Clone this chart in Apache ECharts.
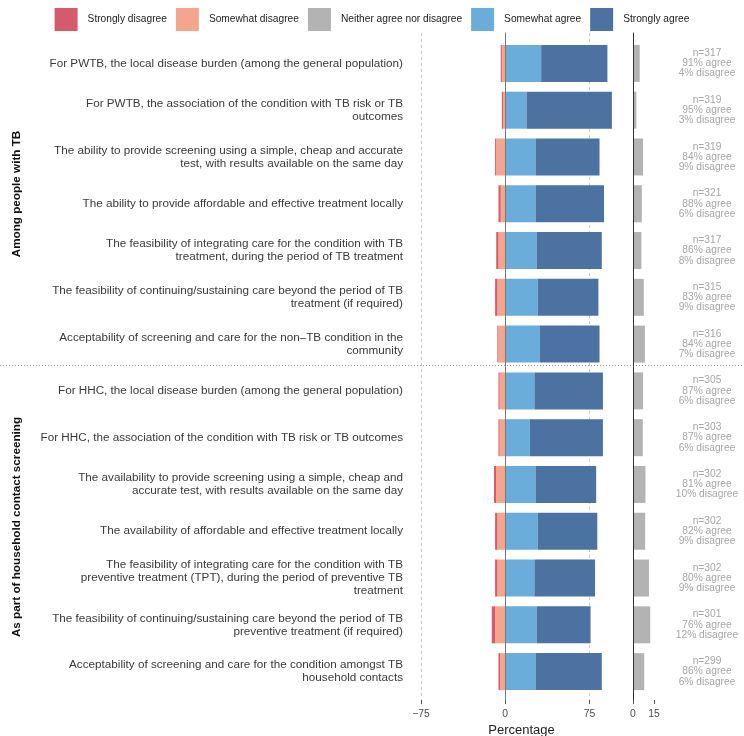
<!DOCTYPE html>
<html>
<head>
<meta charset="utf-8">
<script src="https://cdn.jsdelivr.net/npm/echarts@6/dist/echarts.min.js"></script>
<style>
html, body { margin: 0; padding: 0; background: #fff; }
#chart { width: 744px; height: 736px; }
</style>
</head>
<body>
<div id="chart"></div>
<script>
// statements, top to bottom (first 7 = people with TB, last 7 = household contacts)
const categories = [
  'For PWTB, the local disease burden (among the general population)',
  'For PWTB, the association of the condition with TB risk or TB\noutcomes',
  'The ability to provide screening using a simple, cheap and accurate\ntest, with results available on the same day',
  'The ability to provide affordable and effective treatment locally',
  'The feasibility of integrating care for the condition with TB\ntreatment, during the period of TB treatment',
  'The feasibility of continuing/sustaining care beyond the period of TB\ntreatment (if required)',
  'Acceptability of screening and care for the non\u2013TB condition in the\ncommunity',
  'For HHC, the local disease burden (among the general population)',
  'For HHC, the association of the condition with TB risk or TB outcomes',
  'The availability to provide screening using a simple, cheap and\naccurate test, with results available on the same day',
  'The availability of affordable and effective treatment locally',
  'The feasibility of integrating care for the condition with TB\npreventive treatment (TPT), during the period of preventive TB\ntreatment',
  'The feasibility of continuing/sustaining care beyond the period of TB\npreventive treatment (if required)',
  'Acceptability of screening and care for the condition amongst TB\nhousehold contacts'
];
const groups = ['Among people with TB', 'As part of household contact screening'];

// percentages
const stronglyDisagree = [1, 1, 1, 2, 2, 2, 0.7, 1, 1, 2, 2, 2, 3, 1.5];
const somewhatDisagree = [3, 2, 8, 4, 6, 7, 6.3, 5, 5, 8, 7, 7, 9, 4.5];
const neutral = [4.8, 2.4, 7.2, 6.3, 6, 7.7, 8.5, 7.2, 7, 8.9, 8.7, 11.4, 12.3, 8];
const somewhatAgree = [32, 19, 27, 27, 28, 29, 31, 26, 22, 27, 29, 26, 28, 27];
const stronglyAgree = [59, 76, 57, 61, 58, 54, 53, 61, 65, 54, 53, 54, 48, 59];

// right-hand summary text
const nVals = [317, 319, 319, 321, 317, 315, 316, 305, 303, 302, 302, 302, 301, 299];
const agreePct = [91, 95, 84, 88, 86, 83, 84, 87, 87, 81, 82, 80, 76, 86];
const disagreePct = [4, 3, 9, 6, 8, 9, 7, 6, 6, 10, 9, 9, 12, 6];

const mainTicks = [-75, 0, 75];
const neutralTicks = [0, 15];

const FONT = '"Liberation Sans", Arial, Helvetica, sans-serif';
const colors = {
  sd: '#D55A6C',
  d: '#F3A68D',
  n: '#B3B3B3',
  a: '#6AADDB',
  sa: '#4B72A1'
};
const barW = 37;

const chart = echarts.init(document.getElementById('chart'));

const option = {
  animation: false,
  backgroundColor: '#fff',
  textStyle: { fontFamily: FONT },
  legend: {
    top: 3,
    left: 'center',
    icon: 'rect',
    itemWidth: 23,
    itemHeight: 23,
    itemGap: 9,
    textStyle: { fontSize: 10.2, color: '#222', padding: [0, 0, 0, 5] },
    data: ['Strongly disagree', 'Somewhat disagree', 'Neither agree nor disagree', 'Somewhat agree', 'Strongly agree']
  },
  grid: [
    { left: 421, right: 122, top: 40, bottom: 41, outerBoundsMode: 'none' },   // bars
    { left: 633, right: 83, top: 40, bottom: 41, outerBoundsMode: 'none' },    // neutral bars
    { left: 421, right: 122, top: 33, bottom: 36, outerBoundsMode: 'none' },   // frame for main axis
    { left: 633, right: 83, top: 33, bottom: 36, outerBoundsMode: 'none' }     // frame for neutral axis
  ],
  xAxis: [
    { type: 'value', gridIndex: 0, min: -75, max: 104, show: false },
    { type: 'value', gridIndex: 1, min: 0, max: 20, show: false },
    {
      type: 'value', gridIndex: 2, min: -75, max: 104, interval: 75,
      axisLine: { show: false },
      axisTick: { show: true, customValues: mainTicks, length: 4, lineStyle: { color: '#555' } },
      axisLabel: {
        customValues: mainTicks, fontSize: 10.4, color: '#4d4d4d', margin: 9,
        formatter: v => (v < 0 ? '\u2212' + (-v) : String(v))
      },
      splitLine: { show: true, lineStyle: { color: '#bdbdbd', type: [3, 3], width: 0.8 } },
      name: 'Percentage',
      nameLocation: 'middle',
      nameGap: 21,
      nameTextStyle: { fontSize: 13, color: '#222' }
    },
    {
      type: 'value', gridIndex: 3, min: 0, max: 20,
      axisLine: { show: false },
      axisTick: { show: true, customValues: neutralTicks, length: 4, lineStyle: { color: '#555' } },
      axisLabel: { customValues: neutralTicks, fontSize: 10.4, color: '#4d4d4d', margin: 9 },
      splitLine: { show: false }
    }
  ],
  yAxis: [
    {
      type: 'category', gridIndex: 0, inverse: true, data: categories,
      axisLine: { show: false, onZero: false },
      axisTick: { show: false },
      axisLabel: { interval: 0, margin: 18, fontSize: 11.7, lineHeight: 13, color: '#3a3a3a', align: 'right' }
    },
    { type: 'category', gridIndex: 1, inverse: true, data: categories, show: false },
    {
      type: 'category', gridIndex: 1, position: 'right', inverse: true, data: categories,
      axisLine: { show: false, onZero: false },
      axisTick: { show: false },
      axisLabel: {
        interval: 0, margin: 46, align: 'center', fontSize: 10.2, lineHeight: 10.2, color: '#a6a6a6',
        formatter: (v, i) => 'n=' + nVals[i] + '\n' + agreePct[i] + '% agree\n' + disagreePct[i] + '% disagree'
      }
    },
    {
      type: 'value', gridIndex: 2, min: 0, max: 1, z: 10,
      axisLine: { show: true, onZero: true, lineStyle: { color: '#777', width: 1 } },
      axisTick: { show: false }, axisLabel: { show: false }, splitLine: { show: false }
    },
    {
      type: 'value', gridIndex: 3, min: 0, max: 1, z: 10,
      axisLine: { show: true, lineStyle: { color: '#333', width: 1 } },
      axisTick: { show: false }, axisLabel: { show: false }, splitLine: { show: false }
    }
  ],
  series: [
    {
      name: 'Somewhat disagree', type: 'bar', stack: 'likert', xAxisIndex: 0, yAxisIndex: 0,
      barWidth: barW, itemStyle: { color: colors.d },
      data: somewhatDisagree.map(v => -v)
    },
    {
      name: 'Strongly disagree', type: 'bar', stack: 'likert', xAxisIndex: 0, yAxisIndex: 0,
      barWidth: barW, itemStyle: { color: colors.sd },
      data: stronglyDisagree.map(v => -v)
    },
    {
      name: 'Somewhat agree', type: 'bar', stack: 'likert', xAxisIndex: 0, yAxisIndex: 0,
      barWidth: barW, itemStyle: { color: colors.a },
      data: somewhatAgree
    },
    {
      name: 'Strongly agree', type: 'bar', stack: 'likert', xAxisIndex: 0, yAxisIndex: 0,
      barWidth: barW, itemStyle: { color: colors.sa },
      data: stronglyAgree
    },
    {
      name: 'Neither agree nor disagree', type: 'bar', xAxisIndex: 1, yAxisIndex: 1,
      barWidth: barW, itemStyle: { color: colors.n },
      data: neutral
    }
  ],
  graphic: [
    {
      type: 'line', z: 5,
      shape: { x1: 0, y1: 365.5, x2: 744, y2: 365.5 },
      style: { stroke: '#9a9a9a', lineWidth: 1, lineDash: [1, 2] }
    },
    {
      type: 'text', x: 17, y: 194, rotation: Math.PI / 2,
      style: { text: groups[0], font: 'bold 11.7px ' + FONT, fill: '#111', align: 'center', verticalAlign: 'middle' }
    },
    {
      type: 'text', x: 17, y: 527, rotation: Math.PI / 2,
      style: { text: groups[1], font: 'bold 11.7px ' + FONT, fill: '#111', align: 'center', verticalAlign: 'middle' }
    }
  ]
};

chart.setOption(option);
</script>
</body>
</html>
